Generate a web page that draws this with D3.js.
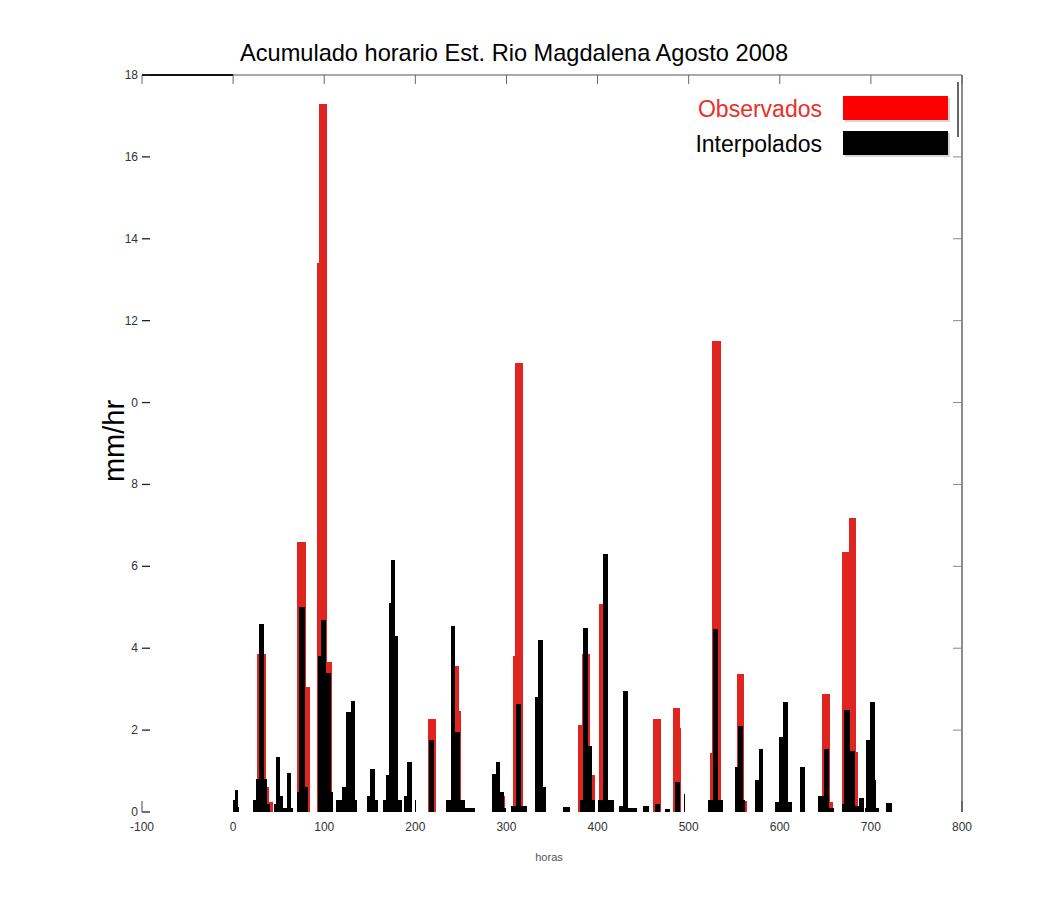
<!DOCTYPE html>
<html>
<head>
<meta charset="utf-8">
<script src="https://cdn.jsdelivr.net/npm/d3@7"></script>
<style>
  body { margin: 0; background: #fff; }
  text { font-family: "Liberation Sans", Arial, sans-serif; }
</style>
</head>
<body>
<div id="chart"></div>
<script>
// hourly rain blocks: [start hour, end hour, mm/hr]
var observados = [
  [26,36,3.86],[36,39,0.6],[39,44,0.25],
  [70.5,80,6.6],[80,84,3.05],
  [92,94,13.4],[94,103,17.3],[103,109,3.67],
  [214,223,2.28],
  [243,248,3.56],[248,250,2.46],
  [293,298,0.4],
  [307,309,3.8],[309,318,10.97],
  [379,383,2.12],[383,392,3.85],[392,397,0.9],
  [402,412,5.09],
  [461,470,2.28],
  [483,490,2.53],[490,492,2.05],
  [523.6,526,1.43],[526,535.3,11.5],
  [553,561,3.36],[561,564,0.27],
  [646,655,2.87],[655,658,0.25],
  [668,675.5,6.35],[675.5,683.5,7.19],[683.5,686,1.47]
];
var interpolados = [
  [0,2,0.3],[2,5,0.53],[5,7,0.12],
  [22,25,0.3],[25,28,0.8],[28,34,4.6],[34,37,0.8],[37,40,0.2],
  [45,47,0.2],[47,52,1.34],[52,55,0.4],[55,59,0.1],[59,63,0.95],[63,66,0.1],
  [70,72,0.5],[72,79,5.0],[79,82,0.6],
  [93,96,3.8],[96,102,4.7],[102,107,3.4],[107,110,0.5],
  [113,120,0.3],[120,124,0.6],[124,129,2.45],[129,134,2.7],[134,136,0.3],
  [147,150,0.4],[150,156,1.04],[156,159,0.3],
  [164,168,0.3],[168,171,0.9],[171,173,5.1],[173,178,6.15],[178,181,4.3],[181,185,0.3],
  [188,191,0.4],[191,196,1.22],[200,201,0.3],
  [215,221,1.77],
  [234,239,0.3],[239,244,4.54],[244,249,1.95],[249,254,0.3],[255,265,0.1],
  [284,288,0.93],[288,293,1.22],[293,297,0.5],[297,300,0.1],
  [305,310,0.15],[310,316,2.63],[316,323,0.15],
  [331,335,2.8],[335,340,4.2],[340,343,0.6],
  [362,370,0.12],
  [381,384,0.3],[384,389,4.5],[389,394,1.6],[394,397,0.3],
  [400,406,0.3],[406,411,6.3],[411,418,0.3],
  [423,428,0.15],[428,433,2.95],[433,443,0.1],
  [450,456,0.15],[463,468,0.2],
  [474,480,0.08],[485,490,0.74],[495,496,0.45],
  [521,527,0.3],[527,532,4.47],[532,538,0.3],
  [551,554,1.1],[554,560,2.1],[560,562,0.3],
  [573,577,0.77],[577,582,1.53],
  [595,599,0.25],[599,603,1.82],[603,609,2.68],[609,613,0.25],
  [622,628,1.1],
  [642,648,0.4],[648,654,1.55],[654,659,0.1],
  [668,671,0.2],[671,677,2.49],[677,683,1.5],[683,690,0.15],[687,692,0.33],
  [693,698,0.1],[695,699,1.76],[699,704,2.68],[704,706,0.78],[706,709,0.1],
  [717,723,0.23]
];
var xTicks = [-100,0,100,200,300,400,500,600,700,800];
var yTicks = [0,2,4,6,8,10,12,14,16,18];
var yTickLabels = ["0","2","4","6","8","0","12","14","16","18"]; // as printed in the original
var series = ["Observados","Interpolados"];
var colors = ["#e02420","#000000"];

var svg = d3.select("#chart").append("svg").attr("width",1055).attr("height",907);
svg.append("rect").attr("width",1055).attr("height",907).attr("fill","#fff");

var x = d3.scaleLinear().domain([-100,800]).range([142,962]);
var y = d3.scaleLinear().domain([0,18]).range([812,75]);

// title
svg.append("text").attr("x",514).attr("y",61).attr("text-anchor","middle")
  .attr("font-size",24).attr("fill","#000")
  .attr("textLength",548).attr("lengthAdjust","spacingAndGlyphs")
  .text("Acumulado horario Est. Rio Magdalena Agosto 2008");

// frame: top and right
svg.append("line").attr("x1",x(-100)).attr("x2",x(800)).attr("y1",y(18)).attr("y2",y(18))
  .attr("stroke","#555").attr("stroke-width",1);
svg.append("line").attr("x1",x(-100)).attr("x2",x(0)).attr("y1",y(18)).attr("y2",y(18))
  .attr("stroke","#111").attr("stroke-width",2);
svg.append("line").attr("x1",x(800)).attr("x2",x(800)).attr("y1",y(18)).attr("y2",y(0))
  .attr("stroke","#666").attr("stroke-width",1.5);

// top ticks
svg.selectAll(".ttick").data(xTicks).enter().append("line")
  .attr("x1",function(d){ return x(d); }).attr("x2",function(d){ return x(d); })
  .attr("y1",y(18)).attr("y2",y(18)+9).attr("stroke","#666");
// right ticks
svg.selectAll(".rtick").data(yTicks.slice(1,9)).enter().append("line")
  .attr("x1",x(800)-9).attr("x2",x(800))
  .attr("y1",function(d){ return y(d); }).attr("y2",function(d){ return y(d); })
  .attr("stroke","#888");
// left ticks
svg.selectAll(".ltick").data(yTicks).enter().append("line")
  .attr("x1",x(-100)).attr("x2",x(-100)+8)
  .attr("y1",function(d){ return y(d); }).attr("y2",function(d){ return y(d); })
  .attr("stroke","#222").attr("stroke-width",1.3);
// corner marks at bottom
[-100,800].forEach(function(v){
  svg.append("line").attr("x1",x(v)).attr("x2",x(v)).attr("y1",y(0)).attr("y2",y(0)-11)
    .attr("stroke","#444");
});

// tick labels
svg.selectAll(".ylab").data(yTicks).enter().append("text")
  .attr("x",x(-100)-4).attr("y",function(d){ return y(d)+4; })
  .attr("text-anchor","end").attr("font-size",12).attr("fill","#333")
  .text(function(d,i){ return yTickLabels[i]; });
svg.selectAll(".xlab").data(xTicks).enter().append("text")
  .attr("x",function(d){ return x(d); }).attr("y",y(0)+19)
  .attr("text-anchor","middle").attr("font-size",12).attr("fill","#333")
  .text(function(d){ return d; });

// axis titles
svg.append("text").attr("transform","translate(124,441) rotate(-90)")
  .attr("text-anchor","middle").attr("font-size",29).attr("fill","#000")
  .text("mm/hr");
svg.append("text").attr("x",549).attr("y",861).attr("text-anchor","middle")
  .attr("font-size",11).attr("fill","#555").text("horas");

// bars
var data = [observados, interpolados];
data.forEach(function(rows, k){
  svg.append("g").attr("shape-rendering","crispEdges")
    .selectAll("rect").data(rows).enter().append("rect")
    .attr("x",function(d){ return Math.round(x(d[0])); })
    .attr("width",function(d){ return Math.max(1, Math.round(x(d[1])) - Math.round(x(d[0]))); })
    .attr("y",function(d){ return y(d[2]); })
    .attr("height",function(d){ return y(0) - y(d[2]); })
    .attr("fill",colors[k]);
});

// legend
var lg = svg.append("g");
lg.append("line").attr("x1",958).attr("x2",958).attr("y1",82).attr("y2",137)
  .attr("stroke","#333").attr("stroke-width",1.5);
series.forEach(function(s,i){
  var yy = 96 + i*35;
  lg.append("rect").attr("x",845).attr("y",yy+2).attr("width",105).attr("height",24)
    .attr("fill","#bbb").attr("opacity",0.6);
  lg.append("rect").attr("x",843).attr("y",yy).attr("width",105).attr("height",24)
    .attr("fill", i === 0 ? "#ff0000" : "#000");
  lg.append("text").attr("x",822).attr("y",yy+21).attr("text-anchor","end")
    .attr("font-size",23).attr("fill", i === 0 ? "#e8302a" : "#000")
    .text(s);
});
</script>
</body>
</html>
